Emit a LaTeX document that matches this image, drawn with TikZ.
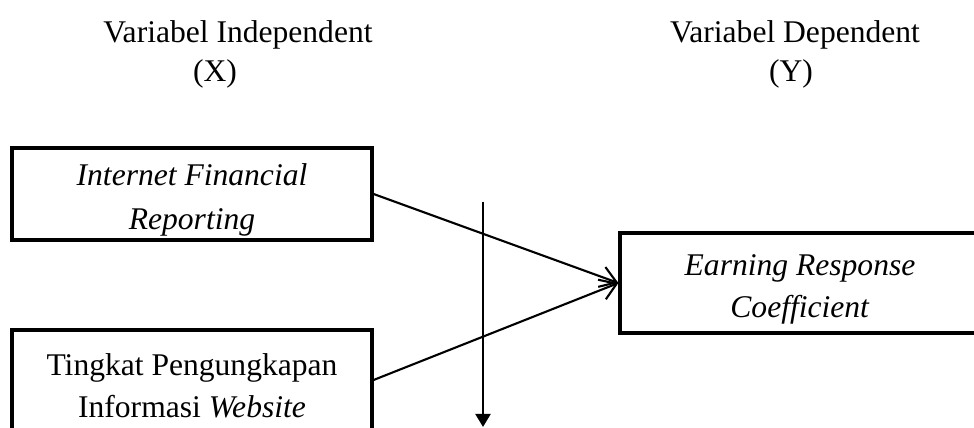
\documentclass[tikz,border=0pt]{standalone}
\usepackage{fontspec}
\setmainfont{Liberation Serif}
\usetikzlibrary{positioning}
\usetikzlibrary{arrows.meta}
\newcommand{\firststrut}{\rule{0pt}{12.8pt}}

\begin{document}
\begin{tikzpicture}[
        x=0.38pt, y=-0.38pt,
        box/.style={draw, line width=1.2pt, minimum width=360*0.38pt,
                    minimum height=92*0.38pt, inner sep=0pt,
                    align=center, font=\fontsize{12}{16}\selectfont},
        head/.style={anchor=base, inner sep=0pt, font=\fontsize{12}{16}\selectfont},
        arrow/.style={-{Straight Barb[length=6pt, width=8pt]}, line width=0.8pt},
        downarrow/.style={-{Triangle[length=5pt, width=5.7pt]}, line width=1pt}
    ]
        \useasboundingbox (0,0) rectangle (974,428);
        \clip (0,0) rectangle (974,428);

        % headings
        \node[head] (indep) at (238,43) {Variabel Independent};
        \node[head] (x) at (215,82) {(X)};
        \node[head] (dep) at (795,43) {Variabel Dependent};
        \node[head] (y) at (791,82) {(Y)};

        % variables
        \node[box, font=\fontsize{12}{17}\selectfont] (ifr) at (192,194)
            {\firststrut\textit{Internet Financial}\\\textit{Reporting}};
        \node[box, minimum height=100*0.38pt] (tpiw) at (192,380)
            {\firststrut Tingkat Pengungkapan\\Informasi \textit{Website}};
        \node[box, minimum height=100*0.38pt] (erc) at (800,283)
            {\firststrut\textit{Earning Response}\\\textit{Coefficient}};

        \coordinate (mtop) at (483,202);
        \coordinate (mbot) at (483,427);

        \draw[arrow] (ifr.east) -- (erc.west);
        \draw[arrow] (tpiw.east) -- (erc.west);
        \draw[downarrow] (mtop) -- (mbot);
    \end{tikzpicture}
\end{document}
